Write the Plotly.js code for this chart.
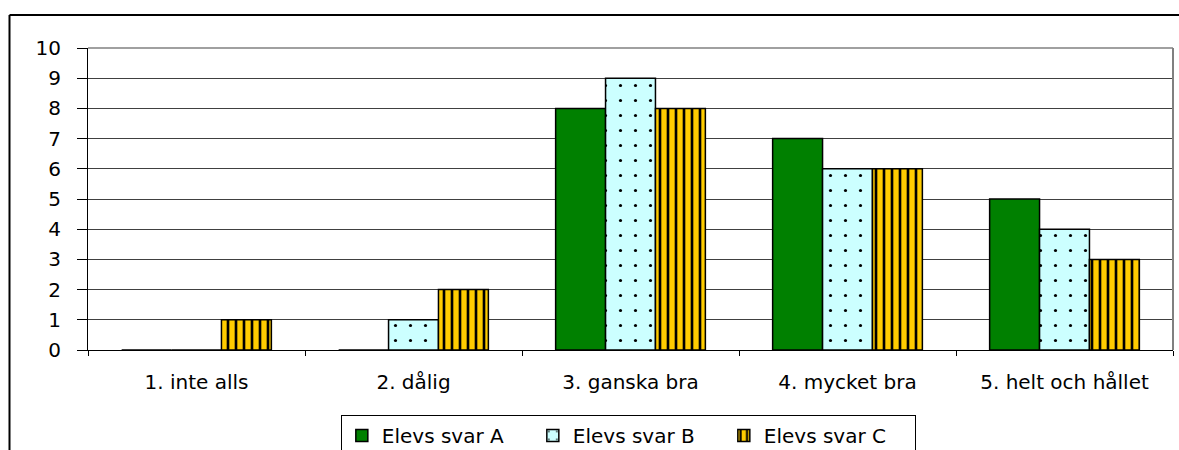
<!DOCTYPE html>
<html>
<head>
<meta charset="utf-8">
<script src="https://cdn.plot.ly/plotly-3.0.1.min.js"></script>
<style>
  html, body { margin: 0; padding: 0; background: #fff; }
  #chart { width: 1179px; height: 450px; }
</style>
</head>
<body>
<div id="chart"></div>
<script>
const categories = ["1. inte alls", "2. dålig", "3. ganska bra", "4. mycket bra", "5. helt och hållet"];
const seriesNames = ["Elevs svar A", "Elevs svar B", "Elevs svar C"];
const valuesA = [0, 0, 8, 7, 5];
const valuesB = [0, 1, 9, 6, 4];
const valuesC = [1, 2, 8, 6, 3];
const yTicks = [0, 1, 2, 3, 4, 5, 6, 7, 8, 9, 10];

const FONT = "DejaVu Sans, Liberation Sans, Arial, sans-serif";

const traces = [
  {
    type: "bar", name: seriesNames[0], x: categories, y: valuesA,
    marker: { color: "#008000", line: { color: "#000", width: 1.5 } }
  },
  {
    type: "bar", name: seriesNames[1], x: categories, y: valuesB,
    marker: {
      color: "#CCFFFF", line: { color: "#000", width: 1.5 },
      pattern: { shape: ".", fgcolor: "#000", bgcolor: "#CCFFFF", size: 15, solidity: 0.035 }
    }
  },
  {
    type: "bar", name: seriesNames[2], x: categories, y: valuesC,
    marker: {
      color: "#FFCC00", line: { color: "#000", width: 1.5 },
      pattern: { shape: "|", fgcolor: "#000", bgcolor: "#FFCC00", size: 8, solidity: 0.33 }
    }
  }
];

const L = 88, R = 1173, T = 47.5, B = 350;
const W = R - L, H = B - T;
const px = v => (v - L) / W;
const py = v => (B - v) / H;

const layout = {
  width: 1179, height: 450,
  margin: { l: L, r: 1179 - R, t: T, b: 450 - B, autoexpand: false },
  paper_bgcolor: "#fff", plot_bgcolor: "#fff",
  font: { family: FONT, size: 20, color: "#000" },
  barmode: "group", bargap: 0.31, bargroupgap: 0,
  showlegend: true,
  legend: {
    orientation: "h", x: 0.498, xanchor: "center", y: py(415), yanchor: "top",
    bordercolor: "#000", borderwidth: 1, bgcolor: "#fff",
    font: { family: FONT, size: 20, color: "#000" },
    entrywidth: 146, entrywidthmode: "pixels",
    itemclick: false
  },
  xaxis: {
    type: "category", showline: true, linecolor: "#000", linewidth: 1,
    ticks: "outside", tickson: "boundaries", ticklen: 5, tickcolor: "#000",
    showgrid: false, tickfont: { family: FONT, size: 20, color: "#000" },
    ticklabelstandoff: 14, fixedrange: true, automargin: false
  },
  yaxis: {
    range: [0, 10], tickvals: yTicks, ticktext: yTicks.map(String),
    showline: true, linecolor: "#000", linewidth: 1,
    ticks: "outside", ticklen: 10, tickcolor: "#000",
    showgrid: true, gridcolor: "#404040", gridwidth: 1,
    zeroline: false, tickfont: { family: FONT, size: 20, color: "#000" },
    ticklabelstandoff: 12, fixedrange: true, automargin: false
  },
  shapes: [
    { type: "line", xref: "paper", yref: "paper", x0: 0, x1: 1, y0: 1, y1: 1,
      line: { color: "#808080", width: 1.5 } },
    { type: "line", xref: "paper", yref: "paper", x0: 1, x1: 1, y0: 0, y1: 1,
      line: { color: "#808080", width: 2 } },
    { type: "line", xref: "paper", yref: "paper",
      x0: px(9.5), x1: px(9.5), y0: py(14.5), y1: py(460),
      line: { color: "#000", width: 2 } },
    { type: "line", xref: "paper", yref: "paper",
      x0: px(9.5), x1: px(1185), y0: py(14.5), y1: py(14.5),
      line: { color: "#000", width: 2 } }
  ]
};

Plotly.newPlot("chart", traces, layout, { staticPlot: true, displayModeBar: false });
</script>
</body>
</html>
